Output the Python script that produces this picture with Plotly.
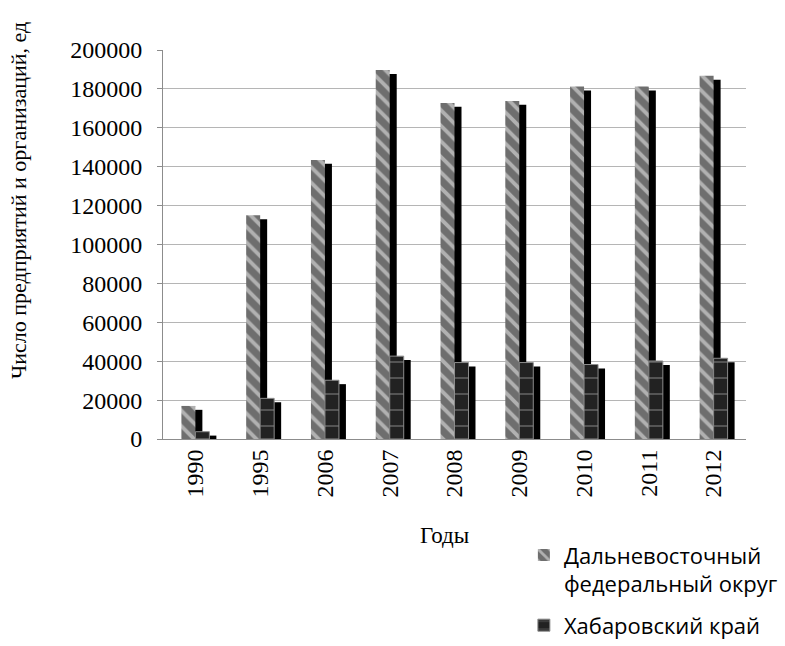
import plotly.graph_objects as go

# Число предприятий и организаций по годам
years = ["1990", "1995", "2006", "2007", "2008", "2009", "2010", "2011", "2012"]
dvfo = [17000, 115000, 143500, 189700, 172800, 173800, 181200, 181200, 186700]
khab = [3750, 20900, 30200, 42600, 39300, 39300, 38300, 40100, 41500]
series_names = ["Дальневосточный<br>федеральный округ", "Хабаровский край"]
y_ticks = [0, 20000, 40000, 60000, 80000, 100000, 120000, 140000, 160000, 180000, 200000]

# geometry of the bars in category units
bar_w = 0.216
shadow_dx = 0.108
shadow_drop = 2000  # shadow top sits a little lower than the bar top

serif = "Liberation Serif, Times New Roman, serif"
sans = "Open Sans, Noto Sans, sans-serif"

fig = go.Figure()

def add_series(values, name, group, offset, pattern, color, line):
    # dark drop shadow behind the bar
    fig.add_trace(go.Bar(
        x=years, y=[v - shadow_drop for v in values],
        offset=offset + shadow_dx, width=bar_w, legendgroup=group,
        marker=dict(color="black", line=dict(width=0)),
        showlegend=False, hoverinfo="skip",
    ))
    fig.add_trace(go.Bar(
        x=years, y=values, name=name, legendgroup=group,
        offset=offset, width=bar_w,
        marker=dict(color=color, pattern=pattern, line=line),
    ))

add_series(
    dvfo, series_names[0], "dvfo", -bar_w,
    dict(shape="\\", fgcolor="#f4f4f4", bgcolor="#6e6e6e", size=11, solidity=0.35, fillmode="overlay"),
    "#6e6e6e", dict(width=0),
)
add_series(
    khab, series_names[1], "khab", 0.0,
    dict(shape="-", fgcolor="#a0a0a0", bgcolor="#222222", size=16, solidity=0.1, fillmode="overlay"),
    "#222222", dict(width=1, color="#8c8c8c"),
)

fig.update_layout(
    width=785, height=646,
    margin=dict(l=163, r=39, t=50, b=207, autoexpand=False),
    paper_bgcolor="white", plot_bgcolor="white",
    barmode="overlay",
    font=dict(family=serif, size=23, color="black"),
    legend=dict(
        x=0.619, y=-0.2446, xanchor="left", yanchor="top",
        font=dict(family=sans, size=22, color="black"),
        valign="top", traceorder="grouped", tracegroupgap=10, itemwidth=30,
        bgcolor="rgba(0,0,0,0)",
    ),
    xaxis=dict(
        type="category", tickangle=-90, automargin=False,
        showline=True, linecolor="#8c8c8c", linewidth=1,
        ticks="", showgrid=False,
        tickfont=dict(family=serif, size=24),
    ),
    yaxis=dict(
        range=[0, 200000], tickvals=y_ticks, tickformat="d", automargin=False,
        showgrid=True, gridcolor="#b5b5b5", gridwidth=1,
        showline=True, linecolor="#8c8c8c", linewidth=1,
        ticks="outside", ticklen=5, tickcolor="#8c8c8c",
        ticklabelstandoff=10, zeroline=False,
        tickfont=dict(family=serif, size=24),
    ),
    annotations=[
        dict(text="Годы", xref="paper", yref="paper", x=0.482, y=-0.247,
             xanchor="center", yanchor="middle", showarrow=False,
             font=dict(family=serif, size=23)),
        dict(text="Число предприятий и организаций, ед", xref="paper", yref="paper",
             x=-0.249, y=0.614, xanchor="center", yanchor="middle", textangle=-90,
             showarrow=False, font=dict(family=serif, size=22)),
    ],
)

fig.write_html("out.html")
